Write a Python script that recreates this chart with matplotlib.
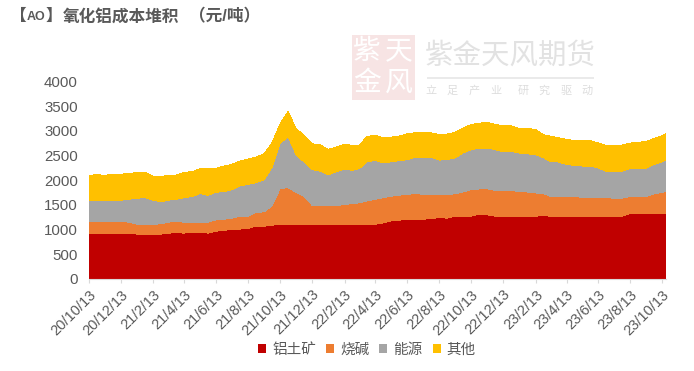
import matplotlib
matplotlib.use('Agg')
from matplotlib import pyplot as plt
from matplotlib.patches import Rectangle
import numpy as np
import pandas as pd

plt.rcParams['font.family'] = ['Liberation Sans', 'Noto Sans CJK SC', 'DejaVu Sans']

# 数值为图上读取的各层上沿（累计值）
bauxite_top = [930, 930, 930, 930, 930, 930, 910, 910, 910, 910, 930, 935, 930, 950, 950, 930, 970, 985, 1005,
               1010, 1025, 1070, 1070, 1090, 1110, 1110, 1110, 1110, 1110, 1095, 1110, 1110, 1110, 1110, 1110, 1110, 1110,
               1137, 1178, 1191, 1211, 1211, 1211, 1225, 1245, 1232, 1272, 1272, 1272, 1312, 1299, 1272, 1272, 1272, 1272,
               1272, 1272, 1285, 1272, 1258, 1265, 1258, 1272, 1272, 1272, 1272, 1272, 1272, 1332, 1332, 1332, 1332, 1332, 1332]
caustic_top = [1171, 1171, 1171, 1171, 1171, 1151, 1110, 1110, 1110, 1117, 1151, 1164, 1151, 1151, 1151, 1151, 1198, 1211, 1232,
               1272, 1272, 1353, 1359, 1487, 1831, 1851, 1750, 1676, 1494, 1481, 1494, 1487, 1508, 1528, 1541, 1582, 1615,
               1649, 1676, 1696, 1716, 1730, 1716, 1709, 1709, 1703, 1730, 1763, 1810, 1824, 1824, 1797, 1790, 1797, 1770,
               1763, 1743, 1730, 1676, 1662, 1676, 1669, 1656, 1656, 1656, 1656, 1629, 1635, 1676, 1676, 1676, 1730, 1750, 1777]
energy_top = [1595, 1595, 1595, 1595, 1595, 1615, 1635, 1649, 1595, 1561, 1595, 1615, 1649, 1669, 1730, 1696, 1757, 1770, 1810,
              1884, 1918, 1952, 2012, 2268, 2739, 2887, 2504, 2369, 2214, 2187, 2106, 2174, 2221, 2201, 2234, 2369, 2403,
              2349, 2376, 2396, 2416, 2463, 2463, 2470, 2409, 2416, 2456, 2557, 2618, 2652, 2652, 2618, 2578, 2584, 2551,
              2537, 2517, 2456, 2382, 2369, 2322, 2302, 2288, 2288, 2248, 2181, 2174, 2181, 2241, 2241, 2248, 2322, 2376, 2416]
other_top = [2100, 2113, 2100, 2120, 2120, 2140, 2154, 2167, 2080, 2080, 2093, 2106, 2160, 2174, 2234, 2234, 2241, 2288, 2322,
             2389, 2430, 2470, 2537, 2773, 3143, 3392, 3042, 2907, 2739, 2719, 2625, 2672, 2726, 2706, 2706, 2887, 2914,
             2860, 2874, 2894, 2941, 2961, 2961, 2961, 2928, 2934, 2975, 3062, 3129, 3156, 3170, 3129, 3102, 3102, 3049,
             3049, 3029, 2921, 2894, 2860, 2827, 2806, 2806, 2806, 2753, 2706, 2699, 2712, 2753, 2766, 2793, 2847, 2901, 2948]

labels = ['铝土矿', '烧碱', '能源', '其他']
colors = ['#C00000', '#ED7D31', '#A5A5A5', '#FFC000']
tick_dates = ['2020-10-13', '2020-12-13', '2021-02-13', '2021-04-13', '2021-06-13', '2021-08-13', '2021-10-13',
              '2021-12-13', '2022-02-13', '2022-04-13', '2022-06-13', '2022-08-13', '2022-10-13', '2022-12-13',
              '2023-02-13', '2023-04-13', '2023-06-13', '2023-08-13', '2023-10-13']
tick_labels = ['20/10/13', '20/12/13', '21/2/13', '21/4/13', '21/6/13', '21/8/13', '21/10/13', '21/12/13', '22/2/13',
               '22/4/13', '22/6/13', '22/8/13', '22/10/13', '22/12/13', '23/2/13', '23/4/13', '23/6/13', '23/8/13',
               '23/10/13']

# 半月一个读数：每月13日、28日，最后一个点是23/10/20
dates = []
for month in pd.date_range('2020-10-01', '2023-09-01', freq='MS'):
    dates.append(month + pd.Timedelta(days=12))
    dates.append(month + pd.Timedelta(days=27))
dates.append(pd.Timestamp('2023-10-13'))
dates.append(pd.Timestamp('2023-10-20'))

W, H = 694, 371
fig = plt.figure(figsize=(W / 100, H / 100), dpi=100)
ax = fig.add_axes([89 / W, 1 - 279 / H, (666 - 89) / W, (279 - 81.5) / H])

bauxite = np.array(bauxite_top)
caustic = np.array(caustic_top) - bauxite
energy = np.array(energy_top) - np.array(caustic_top)
other = np.array(other_top) - np.array(energy_top)
polys = ax.stackplot(dates, bauxite, caustic, energy, other, colors=colors, labels=labels, linewidth=0)
for p in polys:
    p.set_antialiased(False)

ax.set_xlim(pd.Timestamp('2020-10-13'), pd.Timestamp('2023-10-20'))
ax.set_ylim(0, 4000)
ax.set_yticks(range(0, 4001, 500))
ax.set_xticks(pd.to_datetime(tick_dates))
ax.set_xticklabels(tick_labels, rotation=45, ha='right', rotation_mode='anchor')
ax.tick_params(axis='y', length=0, labelsize=10.8, labelcolor='#595959', pad=8)
ax.tick_params(axis='x', length=3, color='#D9D9D9', labelsize=10.5, labelcolor='#595959', pad=3)
for s in ['top', 'right', 'left']:
    ax.spines[s].set_visible(False)
ax.spines['bottom'].set_color('#D9D9D9')

fig.legend(loc='center', bbox_to_anchor=(367 / W, 1 - 350 / H), ncol=4, frameon=False, fontsize=10.5,
           labelcolor='#595959', handlelength=0.55, handleheight=0.55, handletextpad=0.4, columnspacing=0.7)

# 标题分段放，参考图的【】比全角窄
for txt, px, size in [('【', 10, 12), ('AO', 27, 9), ('】', 46, 12), ('氧化铝成本堆积', 63, 12), ('（元/吨）', 189, 12)]:
    fig.text(px / W, 1 - 16.5 / H, txt, fontsize=size, fontweight='bold', color='#595959', va='center', ha='left')

# 水印
fig.add_artist(Rectangle((352 / W, 1 - 100 / H), 63 / W, 65 / H, transform=fig.transFigure, color='#F7E4E4', lw=0))
for ch, px, py in [('紫', 367, 52), ('天', 399, 52), ('金', 367, 84), ('风', 399, 84)]:
    fig.text(px / W, 1 - py / H, ch, fontsize=20, color='white', ha='center', va='center')
fig.text(510.5 / W, 1 - 56 / H, '紫金天风期货', fontsize=20.5, color='#E2E2E2', ha='center', va='center')
fig.add_artist(Rectangle((427 / W, 1 - 78.5 / H), 167 / W, 1.2 / H, transform=fig.transFigure, color='#EAEAEA', lw=0))
for ch, px in zip('立足产业研究驱动', [431, 452, 474, 496, 523, 544, 566, 587]):
    fig.text(px / W, 1 - 91 / H, ch, fontsize=8, color='#DDDDDD', ha='center', va='center')

fig.savefig('out.png', dpi=100)
